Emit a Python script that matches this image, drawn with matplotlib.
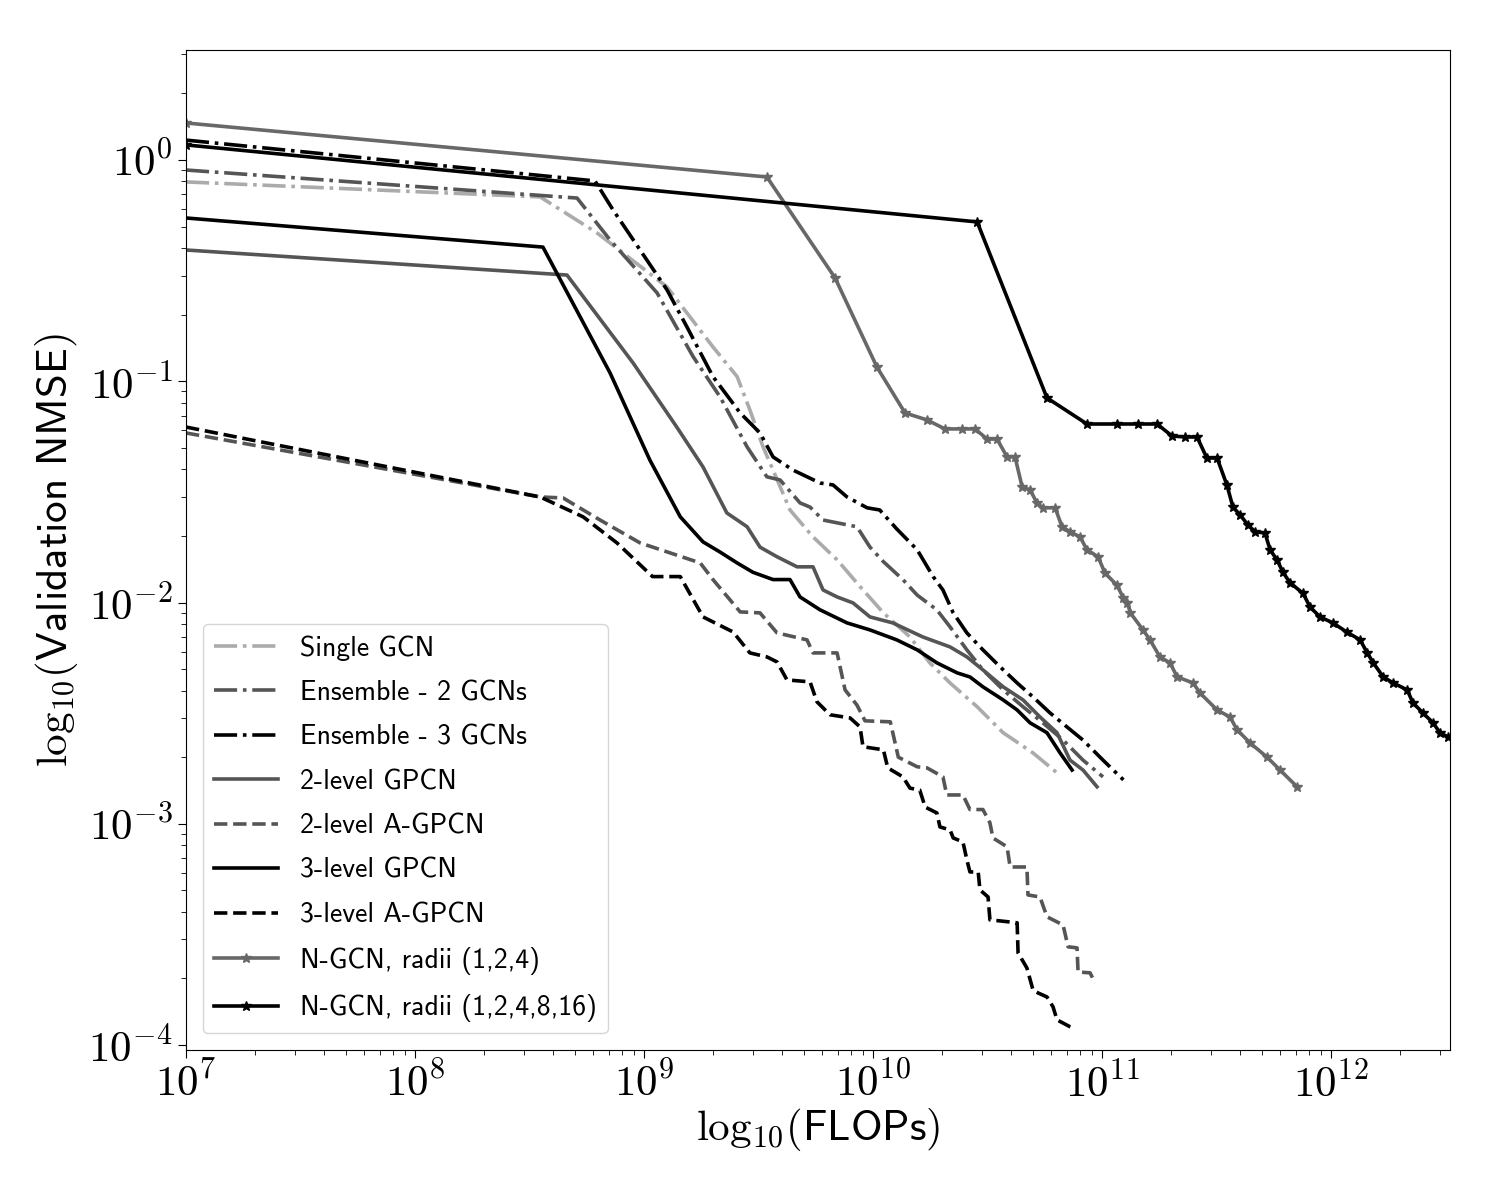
import matplotlib
matplotlib.use("Agg")
import matplotlib.pyplot as plt
from matplotlib.ticker import FuncFormatter
import numpy as np

plt.rcParams['mathtext.fontset'] = 'cm'
plt.rcParams['axes.unicode_minus'] = False

# ---- data (FLOPs, validation NMSE) ----
single_x = [1e7, 3.52e8, 6.24e8, 1.26e9, 2.00e9, 2.55e9, 2.90e9, 3.31e9, 3.66e9, 4.34e9, 5.47e9,
            6.97e9, 8.78e9, 1.11e10, 1.45e10, 1.77e10, 2.17e10, 2.85e10, 3.70e10, 5.00e10, 6.36e10]
single_y = [0.796, 0.681, 0.468, 0.267, 0.143, 0.105, 0.0742, 0.0505, 0.0397, 0.0262, 0.0198,
            0.0156, 0.0118, 0.00898, 0.00699, 0.00534, 0.00433, 0.00338, 0.00258, 0.00209, 0.00170]

ens2_x = [1e7, 5.10e8, 7.11e8, 1.14e9, 1.64e9, 2.15e9, 2.82e9, 3.44e9, 3.93e9, 4.80e9, 5.31e9,
          6.05e9, 8.51e9, 9.70e9, 1.11e10, 1.35e10, 1.56e10, 1.90e10, 2.17e10, 2.57e10, 3.02e10,
          3.70e10, 4.52e10, 5.52e10, 6.76e10, 8.26e10, 1.01e11]
ens2_y = [0.901, 0.673, 0.435, 0.251, 0.129, 0.0849, 0.0505, 0.0370, 0.0358, 0.0282, 0.0270,
          0.0236, 0.0220, 0.0178, 0.0153, 0.0127, 0.0108, 0.00927, 0.00776, 0.00611, 0.00496,
          0.00403, 0.00338, 0.00286, 0.00239, 0.00194, 0.00163]

ens3_x = [1e7, 6.11e8, 7.33e8, 1.26e9, 1.54e9, 2.00e9, 2.63e9, 3.21e9, 3.66e9, 4.47e9, 5.87e9,
          6.69e9, 7.70e9, 9.42e9, 1.07e10, 1.27e10, 1.56e10, 1.83e10, 2.02e10, 2.24e10, 2.57e10,
          3.02e10, 3.59e10, 4.26e10, 5.00e10, 5.93e10, 7.03e10, 8.26e10, 1.01e11, 1.24e11]
ens3_y = [1.23, 0.804, 0.594, 0.259, 0.176, 0.105, 0.0719, 0.0584, 0.0455, 0.0397, 0.0347,
          0.0340, 0.0300, 0.0268, 0.0262, 0.0215, 0.0173, 0.0131, 0.0114, 0.00898, 0.00729,
          0.00611, 0.00512, 0.00433, 0.00374, 0.00317, 0.00274, 0.00239, 0.00194, 0.00158]

gpcn2_x = [1e7, 4.61e8, 8.96e8, 1.39e9, 1.81e9, 2.30e9, 2.82e9, 3.21e9, 3.81e9, 4.66e9, 5.47e9,
           6.05e9, 6.97e9, 8.18e9, 9.70e9, 1.22e10, 1.65e10, 2.17e10, 2.57e10, 3.02e10, 3.70e10,
           4.52e10, 5.36e10, 6.36e10, 7.25e10, 8.26e10, 9.51e10]
gpcn2_y = [0.392, 0.302, 0.121, 0.0621, 0.0410, 0.0254, 0.0220, 0.0178, 0.0161, 0.0145, 0.0145,
           0.0114, 0.0106, 0.00996, 0.00861, 0.00809, 0.00699, 0.00630, 0.00568, 0.00496, 0.00416,
           0.00363, 0.00304, 0.00258, 0.00194, 0.00175, 0.00147]

gpcn3_x = [1e7, 3.62e8, 7.11e8, 1.06e9, 1.44e9, 1.81e9, 2.15e9, 2.55e9, 2.99e9, 3.66e9, 4.34e9,
           4.80e9, 5.87e9, 7.70e9, 9.70e9, 1.27e10, 1.56e10, 1.90e10, 2.33e10, 2.65e10, 3.02e10,
           3.70e10, 4.26e10, 4.85e10, 5.75e10, 6.56e10, 7.40e10]
gpcn3_y = [0.547, 0.404, 0.109, 0.0441, 0.0244, 0.0188, 0.0169, 0.0151, 0.0137, 0.0127, 0.0127,
           0.0106, 0.00927, 0.00809, 0.00752, 0.00678, 0.00611, 0.00534, 0.00481, 0.00461, 0.00416,
           0.00363, 0.00327, 0.00286, 0.00258, 0.00209, 0.00175]

agpcn2_x = [1e7, 3.52e8, 4.43e8, 6.43e8, 9.61e8, 1.76e9, 2.00e9, 2.63e9, 3.21e9, 3.81e9, 5.15e9,
            5.47e9, 6.97e9, 7.55e9, 8.51e9, 9.23e9, 1.19e10, 1.29e10, 1.56e10, 1.72e10, 2.02e10,
            2.10e10, 2.47e10, 2.65e10, 3.02e10, 3.24e10, 3.34e10, 3.85e10, 3.97e10, 4.70e10,
            4.75e10, 5.36e10, 5.75e10, 6.76e10, 7.11e10, 7.78e10, 7.86e10, 8.87e10, 9.32e10]
agpcn2_y = [0.0584, 0.0300, 0.0297, 0.0236, 0.0186, 0.0151, 0.0127, 0.00907, 0.00898, 0.00729,
            0.00678, 0.00592, 0.00592, 0.00403, 0.00344, 0.00292, 0.00289, 0.00200, 0.00181,
            0.00179, 0.00163, 0.00135, 0.00135, 0.00116, 0.00116, 0.00101, 0.000863, 0.000787,
            0.000638, 0.000638, 0.000477, 0.000467, 0.000380, 0.000349, 0.000278, 0.000275,
            0.000214, 0.000212, 0.000191]

agpcn3_x = [1e7, 3.52e8, 5.42e8, 7.62e8, 1.09e9, 1.44e9, 1.81e9, 2.45e9, 2.90e9, 3.44e9, 3.81e9,
            4.21e9, 5.31e9, 5.69e9, 6.49e9, 7.94e9, 8.78e9, 9.04e9, 1.11e10, 1.16e10, 1.35e10,
            1.45e10, 1.60e10, 1.69e10, 1.90e10, 1.96e10, 2.17e10, 2.24e10, 2.47e10, 2.57e10,
            2.65e10, 2.88e10, 2.93e10, 3.18e10, 3.24e10, 3.59e10, 4.26e10, 4.30e10, 4.70e10,
            5.00e10, 5.26e10, 5.75e10, 6.11e10, 6.36e10, 7.25e10, 7.40e10]
agpcn3_y = [0.0621, 0.0300, 0.0244, 0.0186, 0.0131, 0.0131, 0.00861, 0.00736, 0.00592, 0.00568,
            0.00539, 0.00447, 0.00438, 0.00356, 0.00311, 0.00301, 0.00274, 0.00223, 0.00216,
            0.00179, 0.00163, 0.00145, 0.00142, 0.00119, 0.00112, 0.000968, 0.000938, 0.000863,
            0.000828, 0.000687, 0.000606, 0.000606, 0.000503, 0.000467, 0.000368, 0.000364,
            0.000357, 0.000261, 0.000223, 0.000177, 0.000172, 0.000165, 0.000149, 0.000130,
            0.000121, 0.000120]

ngcn3_x = [1e7, 3.44e9, 6.83e9, 1.04e10, 1.38e10, 1.72e10, 2.06e10, 2.45e10, 2.79e10, 3.15e10,
           3.48e10, 3.85e10, 4.17e10, 4.48e10, 4.85e10, 5.20e10, 5.52e10, 6.24e10, 6.69e10,
           7.25e10, 8.02e10, 8.60e10, 9.61e10, 1.03e11, 1.16e11, 1.24e11, 1.29e11, 1.33e11,
           1.51e11, 1.62e11, 1.79e11, 1.98e11, 2.13e11, 2.50e11, 2.68e11, 3.18e11, 3.62e11,
           3.89e11, 4.43e11, 5.26e11, 5.99e11, 7.11e11]
ngcn3_y = [1.47, 0.838, 0.293, 0.116, 0.0719, 0.0669, 0.0609, 0.0609, 0.0609, 0.0548, 0.0548,
           0.0455, 0.0455, 0.0333, 0.0323, 0.0282, 0.0268, 0.0268, 0.0220, 0.0209, 0.0198,
           0.0173, 0.0161, 0.0136, 0.0120, 0.0105, 0.00996, 0.00898, 0.00752, 0.00678, 0.00568,
           0.00534, 0.00461, 0.00433, 0.00390, 0.00327, 0.00304, 0.00266, 0.00232, 0.00200,
           0.00175, 0.00147]

ngcn5_x = [1e7, 2.85e10, 5.75e10, 8.60e10, 1.16e11, 1.44e11, 1.74e11, 2.02e11, 2.30e11, 2.60e11,
           2.87e11, 3.18e11, 3.51e11, 3.73e11, 4.01e11, 4.34e11, 4.66e11, 5.15e11, 5.42e11,
           5.81e11, 6.17e11, 6.62e11, 7.55e11, 8.10e11, 8.95e11, 1.02e12, 1.17e12, 1.34e12,
           1.44e12, 1.53e12, 1.69e12, 1.87e12, 2.15e12, 2.28e12, 2.52e12, 2.79e12, 2.99e12,
           3.24e12, 3.66e12]
ngcn5_y = [1.17, 0.525, 0.0841, 0.0641, 0.0641, 0.0641, 0.0641, 0.0566, 0.0560, 0.0560, 0.0450,
           0.0450, 0.0340, 0.0270, 0.0249, 0.0224, 0.0209, 0.0206, 0.0173, 0.0156, 0.0137,
           0.0123, 0.0110, 0.00955, 0.00861, 0.00809, 0.00736, 0.00678, 0.00592, 0.00534,
           0.00461, 0.00433, 0.00403, 0.00352, 0.00317, 0.00286, 0.00258, 0.00247, 0.00227]

light = '#ababab'
dark = '#555555'
mid = '#686868'
lw = 2.6


def pow10(v, pos):
    # tick label as 10^n in computer modern
    return r'$10^{%d}$' % int(round(np.log10(v)))


fig = plt.figure(figsize=(15, 12), dpi=100)
ax = fig.add_axes([0.124, 0.125, 0.8427, 0.8333])

ax.plot(single_x, single_y, color=light, linestyle='-.', lw=lw, label='Single GCN')
ax.plot(ens2_x, ens2_y, color=dark, linestyle='-.', lw=lw, label='Ensemble - 2 GCNs')
ax.plot(ens3_x, ens3_y, color='black', linestyle='-.', lw=lw, label='Ensemble - 3 GCNs')
ax.plot(gpcn2_x, gpcn2_y, color=dark, linestyle='-', lw=lw, label='2-level GPCN')
ax.plot(agpcn2_x, agpcn2_y, color=dark, linestyle='--', lw=lw, label='2-level A-GPCN')
ax.plot(gpcn3_x, gpcn3_y, color='black', linestyle='-', lw=lw, label='3-level GPCN')
ax.plot(agpcn3_x, agpcn3_y, color='black', linestyle='--', lw=lw, label='3-level A-GPCN')
ax.plot(ngcn3_x, ngcn3_y, color=mid, linestyle='-', lw=lw, marker='*', markersize=7,
        label='N-GCN, radii (1,2,4)')
ax.plot(ngcn5_x, ngcn5_y, color='black', linestyle='-', lw=lw, marker='*', markersize=7,
        label='N-GCN, radii (1,2,4,8,16)')

ax.set_xscale('log')
ax.set_yscale('log')
ax.set_xlim(1e7, 3.31e12)
ax.set_ylim(9.5e-5, 3.14)

ax.xaxis.set_major_formatter(FuncFormatter(pow10))
ax.yaxis.set_major_formatter(FuncFormatter(pow10))
ax.tick_params(axis='both', which='major', labelsize=31, length=6)
ax.tick_params(axis='both', which='minor', length=3.5)

ax.set_xlabel(r'$\mathrm{log}_{10}(\mathsf{FLOPs})$', fontsize=31, labelpad=0)
ax.set_ylabel(r'$\mathrm{log}_{10}(\mathsf{Validation\ NMSE})$', fontsize=31, labelpad=6)

ax.legend(loc='lower left', prop={'family': 'cmss10', 'size': 20},
          handlelength=2.3, labelspacing=0.7, borderaxespad=0.6)

fig.savefig('out.png', dpi=100)
